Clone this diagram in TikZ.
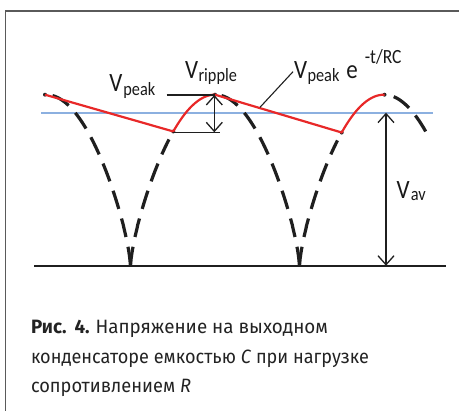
\documentclass[tikz,border=0pt]{standalone}
\usepackage{fontspec}
\usepackage{graphicx}
\setmainfont{Carlito}
\newfontfamily\capfont{Fira Sans}
\usetikzlibrary{arrows.meta}
\definecolor{redc}{RGB}{232,40,40}
\definecolor{bluec}{RGB}{140,176,224}
\definecolor{framec}{RGB}{90,90,90}
\definecolor{capc}{RGB}{35,35,35}
\newsavebox\fitbox
\newcommand\fitline[2]{\sbox\fitbox{#2}\pgfmathsetmacro\fitsc{#1/\the\wd\fitbox}\scalebox{\fitsc}[1]{\usebox\fitbox}}
\newcommand\lsub[2]{\raisebox{-#1}{\fontsize{16.3pt}{18pt}\selectfont #2}}
\newcommand\tall[1]{\scalebox{1}[1.15]{#1}}
\tikzset{
  declare function={wave(\x)=265.7-171*pow(abs(sin((\x-130.5)/169*180))+0.00001,0.72);},
  lbl/.style={inner sep=0pt, outer sep=0pt, font=\fontsize{23pt}{26pt}\selectfont, text=black!90},
  captext/.style={inner sep=0pt, outer sep=0pt, font=\capfont\fontsize{19.3pt}{22pt}\selectfont, text=capc},
  dashcurve/.style={line width=3.2pt, dash pattern=on 19pt off 10pt, black!88},
  redline/.style={line width=2.2pt, redc, line join=round},
  dotnode/.style={circle, fill=black!85, inner sep=0pt, minimum size=4pt},
  thinline/.style={line width=1.3pt, black!88},
  dimarrow/.style={line width=1.3pt, black!88, {Straight Barb[length=9pt,width=16pt]}-{Straight Barb[length=9pt,width=16pt]}},
  frameline/.style={line width=1.5pt, framec}
}
\begin{document}
\begin{tikzpicture}[x=1pt,y=-1pt]
\useasboundingbox (0,0) rectangle (459,411);
% frame
\coordinate (fbl) at (5.7,411);
\coordinate (ftl) at (5.7,11);
\coordinate (ftr) at (459,11);
\draw[frameline] (fbl) -- (ftl) -- (ftr);
% base line and average line
\coordinate (bl) at (34,265.7);
\coordinate (br) at (446,265.7);
\draw[line width=1.8pt, black!88] (bl) -- (br);
\coordinate (avl) at (41,112.7);
\coordinate (avr) at (433,112.7);
\draw[line width=1.8pt, bluec] (avl) -- (avr);
% dashed rectified wave
\draw[dashcurve] plot[domain=130.5:48, samples=80] (\x,{wave(\x)});
\draw[dashcurve] plot[domain=130.5:169, samples=60] (\x,{wave(\x)});
\draw[dashcurve] plot[domain=299.5:217, samples=80] (\x,{wave(\x)});
\draw[dashcurve] plot[domain=299.5:337.5, samples=60] (\x,{wave(\x)});
\draw[dashcurve, dash phase=21pt] plot[domain=386:427, samples=40] (\x,{wave(\x)});
% red output
\node[dotnode] (p0) at (45,94.7) {};
\node[dotnode] (p1) at (173.3,{wave(173.3)}) {};
\node[dotnode] (p2) at (215,{wave(215)}) {};
\node[dotnode] (p3) at (341.7,{wave(341.7)}) {};
\node[dotnode] (p4) at (384.5,{wave(384.5)}) {};
\draw[redline] (p0.center) -- (p1.center) -- plot[domain=173.3:215, samples=30] (\x,{wave(\x)}) -- (p3.center) -- plot[domain=341.7:384.5, samples=30] (\x,{wave(\x)});
% ripple dimension
\coordinate (rtL) at (166.7,95);
\coordinate (rtR) at (215,95);
\coordinate (rbL) at (172.7,132.3);
\coordinate (rbR) at (220,132.3);
\coordinate (raT) at (214.3,95);
\coordinate (raB) at (214.3,132.3);
\draw[thinline] (rtL) -- (rtR);
\draw[thinline] (rbL) -- (rbR);
\draw[dimarrow] (raT) -- (raB);
% average dimension
\coordinate (vaT) at (386,112.7);
\coordinate (vaB) at (386,265.7);
\draw[dimarrow] (vaT) -- (vaB);
% labels
\node[lbl, anchor=base west] (vpk) at (109.5,91.5) {\tall{V\hspace{0.8pt}\lsub{3.5pt}{peak}}};
\node[lbl, anchor=base west] (vrp) at (185,78.3) {\tall{V\hspace{0.5pt}\lsub{3pt}{ripple}}};
\node[lbl, anchor=base west] (vpe) at (294,78.3) {\tall{V\hspace{0.5pt}\lsub{3pt}{peak}\hspace{7pt}e\hspace{7pt}\raisebox{12.5pt}{\fontsize{17.5pt}{18pt}\selectfont -t/RC}}};
\node[lbl, anchor=base west] (vav) at (396.7,198.3) {\tall{V\hspace{1.2pt}\lsub{1.8pt}{av}}};
% leader
\coordinate (ldA) at (260,107.3);
\coordinate (ldB) at (293,71.7);
\draw[line width=1.1pt, black!88] (ldA) -- (ldB);
% caption
\node[captext, anchor=base west] (c1) at (31,333.3) {\fitline{297}{\textbf{Рис.}\hspace{8pt}\textbf{4.}\hspace{6pt}Напряжение на выходном}};
\node[captext, anchor=base west] (c2) at (31,363.3) {\fitline{338}{конденсаторе емкостью \textit{C} при нагрузке}};
\node[captext, anchor=base west] (c3) at (31,392.7) {\fitline{160}{сопротивлением \textit{R}}};
\end{tikzpicture}
\end{document}
